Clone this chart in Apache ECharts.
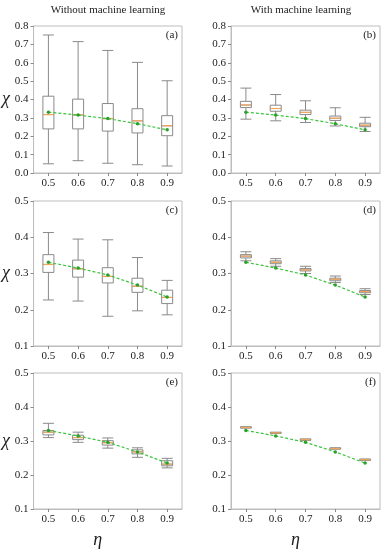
<!DOCTYPE html>
<html>
<head>
<meta charset="utf-8">
<script src="https://cdn.jsdelivr.net/npm/echarts@6/dist/echarts.min.js"></script>
<style>html,body{margin:0;padding:0;background:#fff;}#c{width:385px;height:550px;}</style>
</head>
<body>
<div id="c"></div>
<script>
// ---- data ----
const etaLabels = ['0.5', '0.6', '0.7', '0.8', '0.9'];
const theory = [0.331, 0.315, 0.296, 0.268, 0.235];
const columnTitles = ['Without machine learning', 'With machine learning'];
const panelLabels = ['(a)', '(b)', '(c)', '(d)', '(e)', '(f)'];
const yRangeTop = [0, 0.8];      // min, max of top row
const yRangeRest = [0.1, 0.5];   // min, max of lower rows

// box data: [min, Q1, median, Q3, max]
const boxA = [
  [0.050, 0.240, 0.318, 0.418, 0.751],
  [0.067, 0.240, 0.316, 0.402, 0.715],
  [0.053, 0.228, 0.296, 0.378, 0.667],
  [0.045, 0.218, 0.284, 0.350, 0.602],
  [0.038, 0.203, 0.257, 0.312, 0.502]
];
const boxB = [
  [0.293, 0.356, 0.370, 0.390, 0.462],
  [0.284, 0.336, 0.351, 0.369, 0.427],
  [0.275, 0.318, 0.330, 0.342, 0.393],
  [0.256, 0.286, 0.298, 0.310, 0.355],
  [0.226, 0.252, 0.260, 0.271, 0.303]
];
const boxC = [
  [0.227, 0.303, 0.325, 0.352, 0.413],
  [0.224, 0.290, 0.313, 0.337, 0.395],
  [0.182, 0.274, 0.292, 0.316, 0.393],
  [0.197, 0.248, 0.265, 0.287, 0.344],
  [0.186, 0.217, 0.234, 0.254, 0.281]
];
const boxD = [
  [0.335, 0.343, 0.348, 0.352, 0.360],
  [0.320, 0.327, 0.331, 0.335, 0.341],
  [0.300, 0.307, 0.310, 0.314, 0.320],
  [0.275, 0.280, 0.284, 0.287, 0.293],
  [0.242, 0.247, 0.250, 0.253, 0.258]
];
const boxE = [
  [0.310, 0.318, 0.326, 0.331, 0.352],
  [0.296, 0.304, 0.310, 0.317, 0.326],
  [0.279, 0.288, 0.295, 0.301, 0.309],
  [0.252, 0.262, 0.268, 0.274, 0.280],
  [0.221, 0.227, 0.232, 0.242, 0.249]
];
const boxF = [
  [0.338, 0.339, 0.340, 0.341, 0.342],
  [0.322, 0.323, 0.324, 0.325, 0.326],
  [0.302, 0.303, 0.304, 0.305, 0.306],
  [0.276, 0.277, 0.278, 0.279, 0.280],
  [0.243, 0.244, 0.245, 0.246, 0.247]
];
const boxes = [boxA, boxB, boxC, boxD, boxE, boxF];

// ---- layout / style ----
const FONT = '"Liberation Serif", "Times New Roman", serif';
const gridPos = [
  {left: 33, top: 26, width: 149, height: 147},
  {left: 231, top: 26, width: 149, height: 147},
  {left: 33, top: 201, width: 149, height: 145},
  {left: 231, top: 201, width: 149, height: 145},
  {left: 33, top: 373, width: 149, height: 146},
  {left: 231, top: 373, width: 149, height: 146}
];
const frameColor = '#bdbdbd';
const boxColor = '#8a8a8a';
const medianColor = '#f5a55a';
const greenColor = '#3cc43c';
const BOXW = 11;

const grid = gridPos.map(g => Object.assign({show: true, borderColor: frameColor, borderWidth: 1, backgroundColor: 'transparent'}, g));

const xAxis = gridPos.map((g, i) => ({
  type: 'category', gridIndex: i, data: etaLabels, boundaryGap: true,
  axisLine: {show: true, lineStyle: {color: frameColor}},
  axisTick: {show: true, alignWithLabel: true, length: 3, lineStyle: {color: '#888'}},
  axisLabel: {fontFamily: FONT, fontSize: 11, color: '#222', margin: 5},
  splitLine: {show: false},
  name: i >= 4 ? 'η' : '', nameLocation: 'middle', nameGap: 22,
  nameTextStyle: {fontFamily: FONT, fontStyle: 'italic', fontSize: 18, color: '#222', padding: [0, 20, 0, 0]}
}));

const yAxis = gridPos.map((g, i) => {
  const r = i < 2 ? yRangeTop : yRangeRest;
  return {
    type: 'value', gridIndex: i, min: r[0], max: r[1], interval: 0.1,
    axisLine: {show: true, lineStyle: {color: frameColor}},
    axisTick: {show: true, length: 3, lineStyle: {color: '#888'}},
    axisLabel: {fontFamily: FONT, fontSize: 11, color: '#222', margin: 5, formatter: v => v.toFixed(1)},
    splitLine: {show: false},
    name: i % 2 === 0 ? 'χ' : '', nameLocation: 'middle', nameRotate: 0, nameGap: 22,
    nameTextStyle: {fontFamily: FONT, fontStyle: 'italic', fontSize: 18, color: '#222', padding: [0, 0, 16, 0]}
  };
});

const series = [];
boxes.forEach((b, i) => {
  series.push({
    type: 'boxplot', xAxisIndex: i, yAxisIndex: i, data: b,
    boxWidth: [BOXW, BOXW],
    itemStyle: {color: '#fff', borderColor: boxColor, borderWidth: 1},
    emphasis: {disabled: true}, z: 2
  });
  series.push({
    type: 'custom', xAxisIndex: i, yAxisIndex: i, z: 3,
    data: b.map((d, k) => [k, d[2]]),
    renderItem: function (params, api) {
      const p = api.coord([api.value(0), api.value(1)]);
      return {type: 'line', shape: {x1: p[0] - BOXW / 2 + 0.5, y1: p[1], x2: p[0] + BOXW / 2 - 0.5, y2: p[1]},
        style: {stroke: medianColor, lineWidth: 1.2}};
    }
  });
  series.push({
    type: 'line', xAxisIndex: i, yAxisIndex: i, data: theory, z: 4,
    lineStyle: {color: greenColor, width: 1.2, type: [3, 2]},
    symbol: 'circle', symbolSize: 3.5, itemStyle: {color: '#2aa02a'},
    showSymbol: true, animation: false
  });
});

const graphic = [];
columnTitles.forEach((t, c) => {
  graphic.push({type: 'text', x: c === 0 ? 108 : 301, y: 10,
    style: {text: t, fontFamily: FONT, fontSize: 11, fill: '#222', align: 'center', verticalAlign: 'middle'}});
});
panelLabels.forEach((t, i) => {
  const g = gridPos[i];
  graphic.push({type: 'text', x: g.left + g.width - 4, y: g.top + 9,
    style: {text: t, fontFamily: FONT, fontSize: 11, fill: '#222', align: 'right', verticalAlign: 'middle'}});
});

const chart = echarts.init(document.getElementById('c'), null, {renderer: 'canvas'});
chart.setOption({animation: false, grid, xAxis, yAxis, series, graphic});
</script>
</body>
</html>
